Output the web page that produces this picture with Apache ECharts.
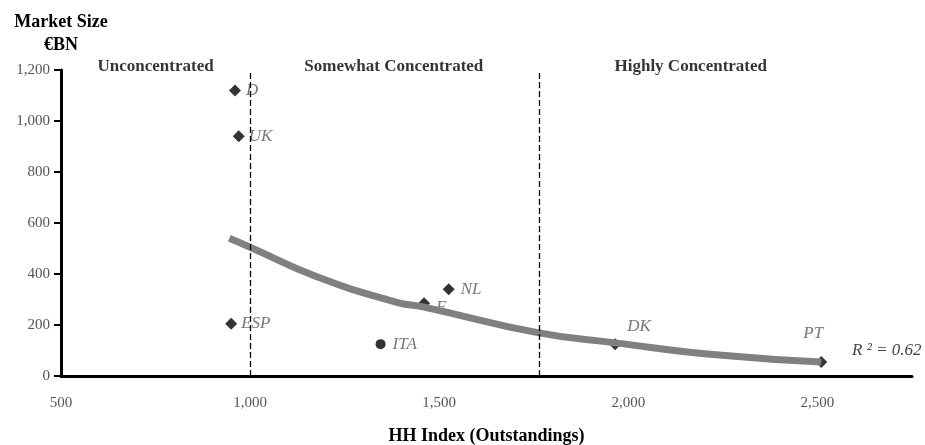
<!DOCTYPE html>
<html>
<head>
<meta charset="utf-8">
<script src="https://cdn.jsdelivr.net/npm/echarts@6/dist/echarts.min.js"></script>
<style>
html,body{margin:0;padding:0;background:#fff;}
#chart{width:925px;height:445px;}
</style>
</head>
<body>
<div id="chart"></div>
<script>
// Countries: [HH index, market size €BN]
var countries = ['D', 'UK', 'ESP', 'ITA', 'F', 'NL', 'DK', 'PT'];
var hhIndex   = [960, 970, 950, 1345, 1460, 1525, 1965, 2510];
var marketSize = [1120, 940, 205, 125, 285, 340, 125, 55];

// Trend line
var trendX = [945, 1000, 1175, 1385, 1460, 1760, 1965, 2240, 2510];
var trendY = [540, 505, 390, 290, 270, 170, 130, 82, 55];

// Concentration thresholds
var thresholds = [1000, 1765];
var regionNames = ['Unconcentrated', 'Somewhat Concentrated', 'Highly Concentrated'];
var regionLabelX = [750, 1380, 2165];

var xTicks = [500, 1000, 1500, 2000, 2500];
var yTicks = [0, 200, 400, 600, 800, 1000, 1200];

var FONT = 'Liberation Serif';

var labelPos = {
  'D':   {position: 'right', offset: [1, 0]},
  'UK':  {position: 'right', offset: [0, 0]},
  'ESP': {position: 'right', offset: [0, 0]},
  'ITA': {position: 'right', offset: [3, 0]},
  'F':   {position: 'right', offset: [2, 4]},
  'NL':  {position: 'right', offset: [2, 0]},
  'DK':  {position: 'top', offset: [24, 1]},
  'PT':  {position: 'top', offset: [-8, -10]}
};

var pointData = countries.map(function (c, i) {
  var lp = labelPos[c];
  return {
    name: c,
    value: [hhIndex[i], marketSize[i]],
    symbol: c === 'ITA' ? 'circle' : 'diamond',
    symbolSize: c === 'ITA' ? 10 : 12,
    label: {show: true, position: lp.position, offset: lp.offset, formatter: c}
  };
});

var trendData = trendX.map(function (x, i) { return [x, trendY[i]]; });

var regionData = regionNames.map(function (n, i) {
  return {name: n, value: [regionLabelX[i], 1200]};
});

function fmt(v) {
  return String(v).replace(/\B(?=(\d{3})+(?!\d))/g, ',');
}

var chart = echarts.init(document.getElementById('chart'));
chart.setOption({
  animation: false,
  backgroundColor: '#fff',
  textStyle: {fontFamily: FONT},
  grid: {left: 61, right: 13, top: 70, bottom: 69, containLabel: false, outerBoundsMode: 'none'},
  xAxis: {
    type: 'value',
    min: xTicks[0],
    max: 2750,
    interval: 500,
    name: 'HH Index (Outstandings)',
    nameLocation: 'middle',
    nameGap: 51,
    nameTextStyle: {fontFamily: FONT, fontWeight: 'bold', fontSize: 18, color: '#000', letterSpacing: -0.5},
    axisLine: {show: true, lineStyle: {color: '#000', width: 3}},
    axisTick: {show: false},
    splitLine: {show: false},
    axisLabel: {
      fontFamily: FONT, fontSize: 15, color: '#555', margin: 20,
      formatter: function (v) { return xTicks.indexOf(v) >= 0 ? fmt(v) : ''; }
    }
  },
  yAxis: {
    type: 'value',
    min: 0,
    max: 1200,
    interval: 200,
    name: 'Market Size\n€BN',
    nameLocation: 'end',
    nameGap: 13,
    nameTextStyle: {fontFamily: FONT, fontWeight: 'bold', fontSize: 18, color: '#000', lineHeight: 23, align: 'center'},
    axisLine: {show: true, lineStyle: {color: '#000', width: 3}},
    axisTick: {show: true, inside: false, length: 7, lineStyle: {color: '#000', width: 2}},
    splitLine: {show: false},
    axisLabel: {
      fontFamily: FONT, fontSize: 15, color: '#555', margin: 11,
      formatter: function (v) { return yTicks.indexOf(v) >= 0 ? fmt(v) : ''; }
    }
  },
  series: [
    {
      type: 'scatter',
      name: 'countries',
      data: pointData,
      itemStyle: {color: '#000'},
      label: {fontFamily: FONT, fontStyle: 'italic', fontSize: 17, color: '#555', distance: 4},
      z: 3
    },
    {
      type: 'line',
      name: 'trend',
      data: trendData,
      smooth: true,
      showSymbol: false,
      symbol: 'none',
      lineStyle: {color: '#808080', width: 7},
      z: 4,
      markLine: {
        silent: true,
        symbol: ['none', 'none'],
        label: {show: false},
        lineStyle: {color: '#000', type: [6, 3], width: 1.3},
        data: thresholds.map(function (t) {
          return [{coord: [t, 0]}, {coord: [t, 1200]}];
        })
      }
    },
    {
      type: 'scatter',
      name: 'regions',
      data: regionData,
      symbolSize: 0,
      silent: true,
      label: {
        show: true, position: 'inside', offset: [0, -3],
        formatter: function (p) { return p.name; },
        fontFamily: FONT, fontWeight: 'bold', fontSize: 17, color: '#000', letterSpacing: -0.3
      }
    }
  ],
  graphic: [
    {
      type: 'text',
      left: 852,
      top: 342,
      style: {text: 'R ² = 0.62', fontFamily: FONT, fontStyle: 'italic', fontSize: 17, fill: '#444'}
    }
  ]
});
</script>
</body>
</html>
